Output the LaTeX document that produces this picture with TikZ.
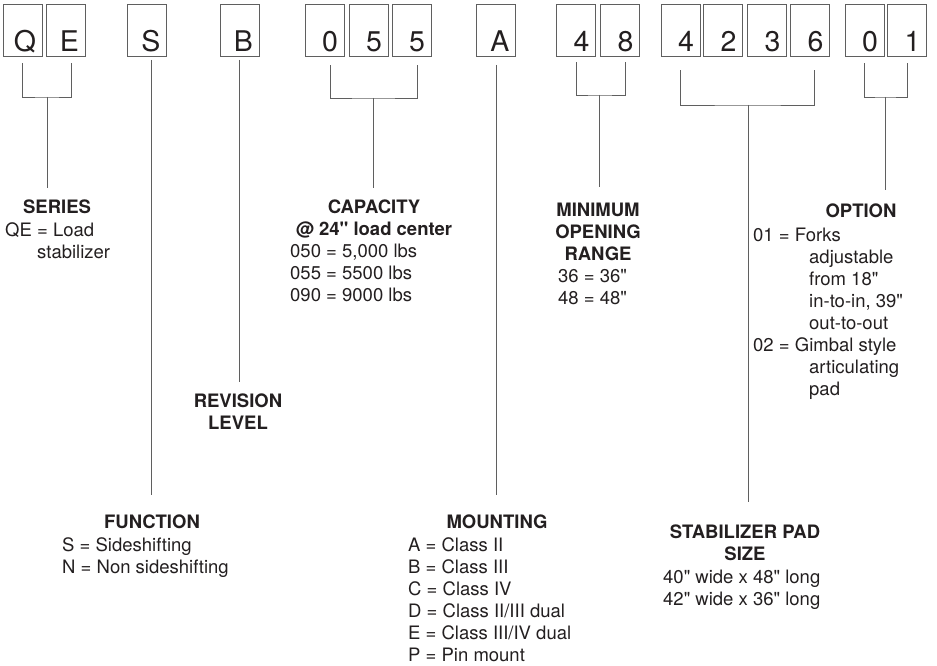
\documentclass[tikz,border=0pt]{standalone}
\usepackage{fontspec}
\setmainfont{TeX Gyre Heros}[Ligatures=TeXOff]
\definecolor{ink}{RGB}{35,31,32}
\definecolor{rule}{RGB}{95,95,95}
\tikzset{
  codebox/.style={draw=rule, line width=0.8pt, inner xsep=6pt, inner ysep=0pt,
    text width=27pt, align=right, text height=48pt, text depth=4pt,
    font=\fontsize{28.5}{30}\selectfont, text=ink},
  lead/.style={draw=rule, line width=0.9pt},
  head/.style={inner sep=0pt, align=center, anchor=north, text=ink,
    font=\fontsize{18.5}{22}\selectfont\bfseries},
  body/.style={inner sep=0pt, align=left, anchor=north west, text=ink,
    font=\fontsize{18.5}{22}\selectfont},
}
\begin{document}
\begin{tikzpicture}[x=1pt,y=-1pt]
 \useasboundingbox (0,0) rectangle (937,666);
 % code boxes
 \node[codebox] (q) at (22.5,30) {Q};
 \node[codebox] (e) at (65.5,30) {E};
 \node[codebox] (s) at (147,30) {S};
 \node[codebox] (b) at (239.5,30) {B};
 \node[codebox] (c1) at (324.5,30) {0};
 \node[codebox] (c2) at (368.5,30) {5};
 \node[codebox] (c3) at (411.5,30) {5};
 \node[codebox] (a) at (496,30) {A};
 \node[codebox] (r1) at (576,30) {4};
 \node[codebox] (r2) at (620,30) {8};
 \node[codebox] (p1) at (680.5,30) {4};
 \node[codebox] (p2) at (723,30) {2};
 \node[codebox] (p3) at (767,30) {3};
 \node[codebox] (p4) at (810,30) {6};
 \node[codebox] (o1) at (864.5,30) {0};
 \node[codebox] (o2) at (907,30) {1};

 % headings and meanings
 \node[head] (series) at (57,200) {SERIES};
 \node[body] (series-txt) at (5,222) {QE = Load\\\hspace*{32pt}stabilizer};
 \node[head] (function) at (152,515) {FUNCTION};
 \node[body] (function-txt) at (62,537) {S = Sideshifting\\N = Non sideshifting};
 \node[head] (revision) at (238,394) {REVISION\\LEVEL};
 \node[head] (capacity) at (374,200) {CAPACITY\\@ 24" load center};
 \node[body] (capacity-txt) at (290,244) {050 = 5,000 lbs\\055 = 5500 lbs\\090 = 9000 lbs};
 \node[head] (mounting) at (497,515) {MOUNTING};
 \node[body] (mounting-txt) at (408,537) {A = Class II\\B = Class III\\C = Class IV\\
   D = Class II/III dual\\E = Class III/IV dual\\P = Pin mount};
 \node[head] (range) at (598,203) {MINIMUM\\OPENING\\RANGE};
 \node[body] (range-txt) at (558,269) {36 = 36"\\48 = 48"};
 \node[head] (pad) at (745,525) {STABILIZER PAD\\SIZE};
 \node[body] (pad-txt) at (663,570) {40" wide x 48" long\\42" wide x 36" long};
 \node[head] (option) at (861,204) {OPTION};
 \node[body] (option-txt) at (753,228) {01 = Forks\\\hspace*{56pt}adjustable\\
   \hspace*{56pt}from 18"\\\hspace*{56pt}in-to-in, 39"\\\hspace*{56pt}out-to-out\\
   02 = Gimbal style\\\hspace*{56pt}articulating\\\hspace*{56pt}pad};

 % brackets
 \coordinate (qe) at (47,97);
 \coordinate (cap) at (373,98);
 \coordinate (rng) at (599,95);
 \coordinate (stab) at (748,105);
 \coordinate (opt) at (885,97);
 \draw[lead] ([yshift=-7pt]q.south) |- (qe) -| ([xshift=5.5pt,yshift=-7pt]e.south);
 \draw[lead] ([xshift=5.5pt,yshift=-9pt]c1.south) |- (cap) -| ([xshift=5.5pt,yshift=-9pt]c3.south);
 \draw[lead] ([yshift=-6pt]r1.south) |- (rng) -| ([xshift=5pt,yshift=-6pt]r2.south);
 \draw[lead] ([yshift=-14pt]p1.south) |- (stab) -| ([xshift=4pt,yshift=-14pt]p4.south);
 \draw[lead] ([yshift=-7pt]o1.south) |- (opt) -| ([yshift=-7pt]o2.south);

 % leads down to the headings
 \coordinate (s-top) at (151,60);
 \coordinate (b-top) at (239,60);
 \coordinate (a-top) at (496,65);
 \draw[lead, shorten >=12pt] (qe) -- (qe |- series.north);
 \draw[lead, shorten >=20pt] (s-top) -- (s-top |- function.north);
 \draw[lead, shorten >=12pt] (b-top) -- (b-top |- revision.north);
 \draw[lead, shorten >=12pt] (cap) -- (cap |- capacity.north);
 \draw[lead, shorten >=20pt] (a-top) -- (a-top |- mounting.north);
 \draw[lead, shorten >=16pt] (rng) -- (rng |- range.north);
 \draw[lead, shorten >=23pt] (stab) -- (stab |- pad.north);
 \draw[lead, shorten >=14pt] (opt) -- (opt |- option.north);
\end{tikzpicture}
\end{document}
